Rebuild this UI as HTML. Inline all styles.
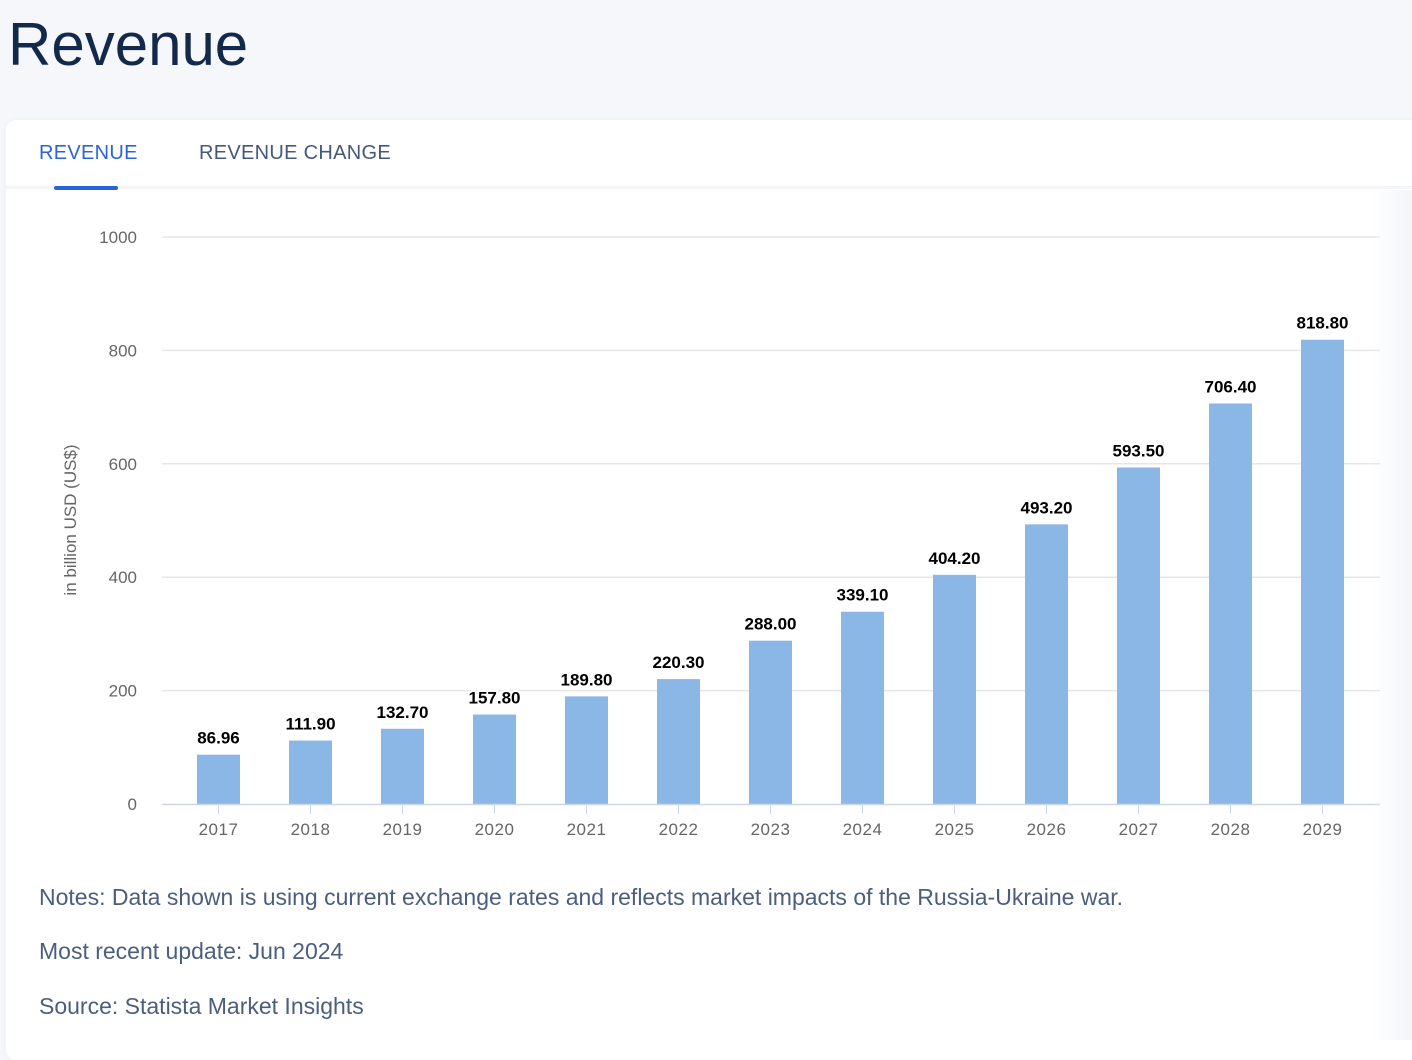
<!DOCTYPE html>
<html><head><meta charset="utf-8"><style>
body{margin:0;width:1412px;height:1040px;background:#f5f7fb;font-family:"Liberation Sans",sans-serif;overflow:hidden;position:relative}
#title{position:absolute;left:8px;top:10px;font-size:60px;color:#13294b;font-weight:300;letter-spacing:0px}
#card{position:absolute;left:6px;top:120px;width:1420px;height:940px;background:#fff;border-radius:10px;box-shadow:0 0 8px rgba(0,0,0,0.04)}
.tab{position:absolute;top:142px;font-size:20px;letter-spacing:0.3px}
#hdrline{position:absolute;left:6px;top:186px;width:1406px;height:3px;background:#f3f5f9}
#uline{position:absolute;left:54px;top:186px;width:64px;height:4px;background:#2b63d9;border-radius:2px}
#shadow{position:absolute;left:1372px;top:190px;width:40px;height:850px;background:linear-gradient(90deg,rgba(245,247,251,0),#f3f5f9)}
.note{position:absolute;left:39px;font-size:23px;color:#4b5e7e}
</style></head><body>
<div id="title">Revenue</div>
<div id="card"></div>
<div id="hdrline"></div>
<div class="tab" style="left:39px;color:#2b63d9">REVENUE</div>
<div class="tab" style="left:199px;color:#45587a">REVENUE CHANGE</div>
<div id="uline"></div>
<svg id="chart" width="1412" height="1040" style="position:absolute;left:0;top:0"></svg>
<div id="shadow"></div>
<div class="note" style="top:884px">Notes: Data shown is using current exchange rates and reflects market impacts of the Russia-Ukraine war.</div>
<div class="note" style="top:938px">Most recent update: Jun 2024</div>
<div class="note" style="top:993px">Source: Statista Market Insights</div>
<script>
const years=["2017","2018","2019","2020","2021","2022","2023","2024","2025","2026","2027","2028","2029"];
const revenue=[86.96,111.9,132.7,157.8,189.8,220.3,288.0,339.1,404.2,493.2,593.5,706.4,818.8];
const valueLabels=["86.96","111.90","132.70","157.80","189.80","220.30","288.00","339.10","404.20","493.20","593.50","706.40","818.80"];
const yTicks=[0,200,400,600,800,1000];
const NS="http://www.w3.org/2000/svg";
const svg=document.getElementById('chart');
const x0=162,x1=1380,y0=804,y1=237,yMax=1000;
const step=92,first=218.5,bw=43;
function yS(v){return y0-(v/yMax)*(y0-y1);}
function xS(i){return first+i*step;}
function mk(t,a){const e=document.createElementNS(NS,t);for(const k in a)e.setAttribute(k,a[k]);svg.appendChild(e);return e;}
yTicks.forEach(v=>{
  if(v>0){const g=mk('line',{x1:x0,x2:x1,y1:yS(v),y2:yS(v),stroke:'#e6e6e6','stroke-width':1.5});
  
  }
  const t=mk('text',{x:137,y:yS(v)+6,'text-anchor':'end','font-size':17,fill:'#666','font-family':'Liberation Sans, sans-serif'});
  t.textContent=v;
  
  
});
const yt=mk('text',{transform:'translate(76,520) rotate(-90)','text-anchor':'middle','font-size':17,fill:'#666','font-family':'Liberation Sans, sans-serif'});
yt.textContent='in billion USD (US$)';


years.forEach((yr,i)=>{
  const cx=xS(i),v=revenue[i];
  const b=mk('rect',{x:cx-bw/2,y:yS(v),width:bw,height:y0-yS(v),fill:'#8bb7e6'});
  
  
  const l=mk('text',{x:cx,y:yS(v)-11,'text-anchor':'middle','font-size':17,'font-weight':'bold',fill:'#000',stroke:'#fff','stroke-width':4,'paint-order':'stroke','stroke-linejoin':'round','font-family':'Liberation Sans, sans-serif'});
  l.textContent=valueLabels[i];
  
  
  const tk=mk('line',{x1:cx,x2:cx,y1:y0,y2:y0+10,stroke:'#ccd6eb','stroke-width':1});
  
  
  const xl=mk('text',{x:cx,y:835,'text-anchor':'middle','font-size':17,fill:'#666','font-family':'Liberation Sans, sans-serif','letter-spacing':'0.5'});
  xl.textContent=yr;
  
  
});
const ax=mk('line',{x1:x0,x2:x1,y1:y0+0.5,y2:y0+0.5,stroke:'#ccd6eb','stroke-width':1.5});


</script>
</body></html>
